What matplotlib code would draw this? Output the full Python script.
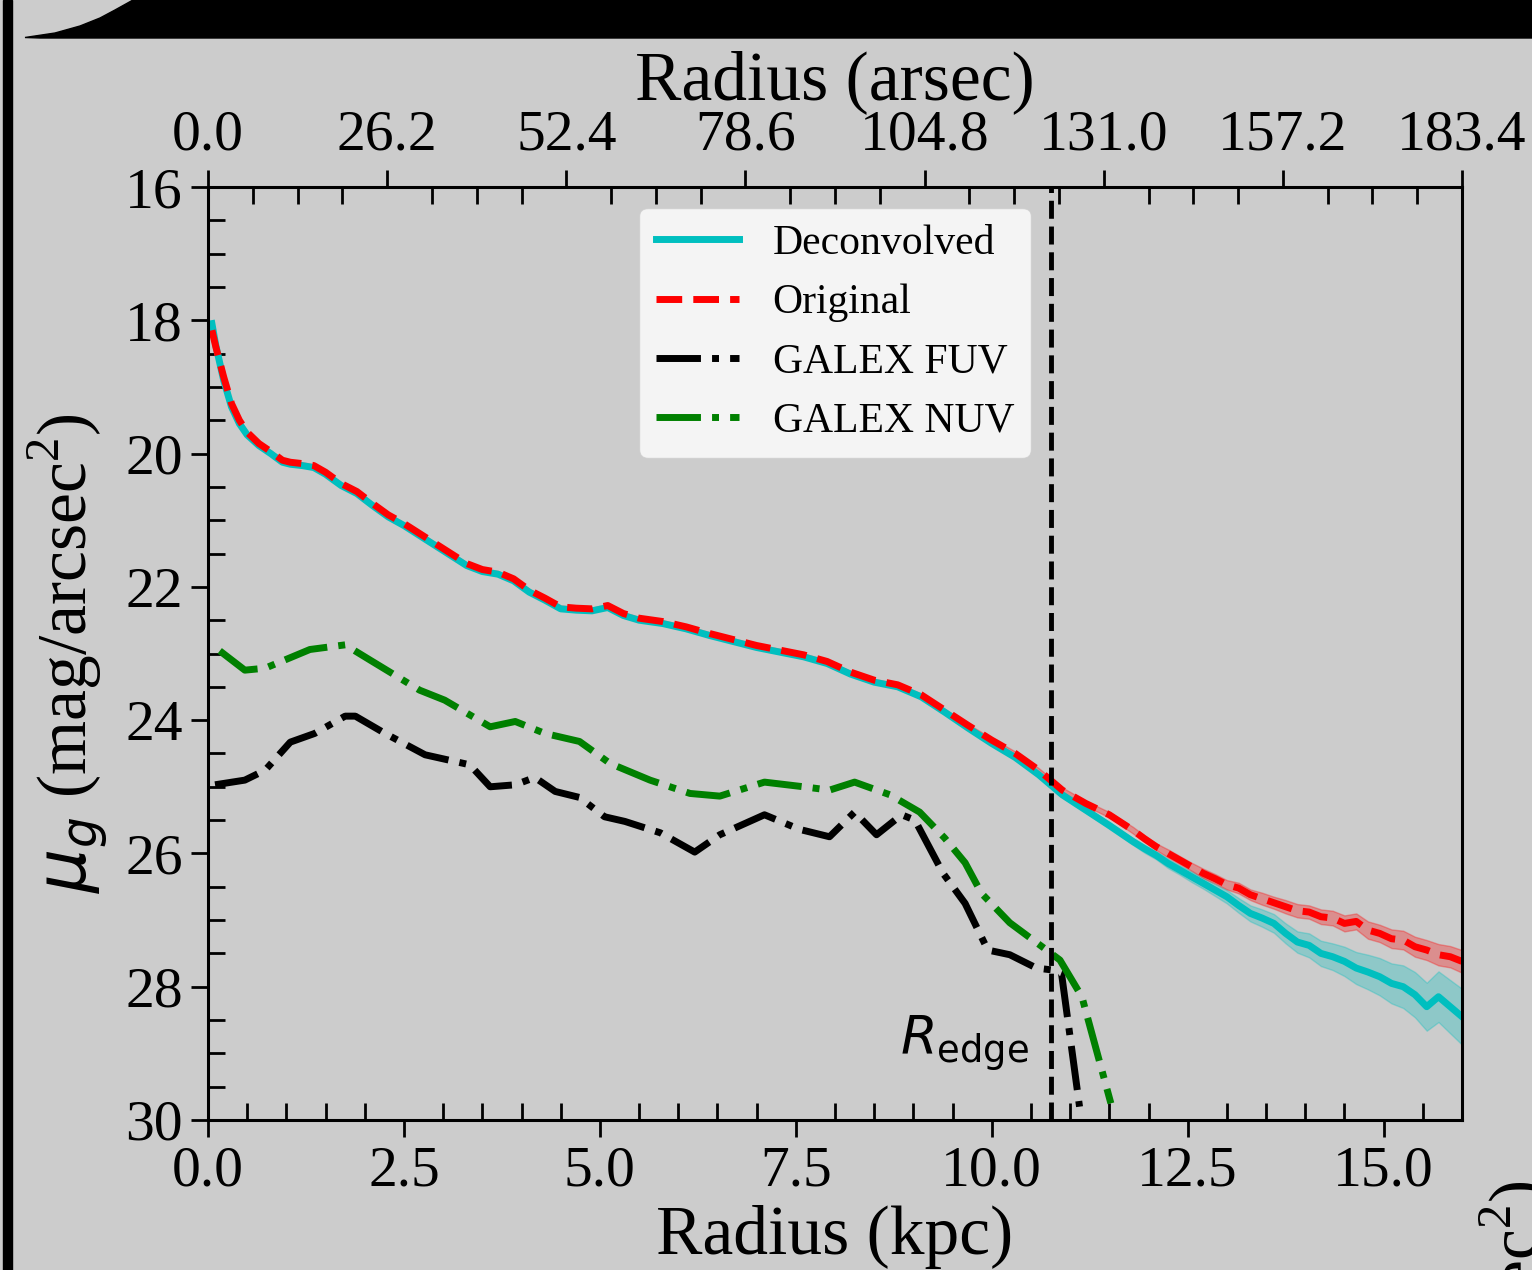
import numpy as np
import matplotlib.pyplot as plt
from matplotlib.patches import Polygon, Rectangle
from matplotlib.ticker import MultipleLocator, AutoMinorLocator

# optical profiles (kpc, mag/arcsec^2)
r_opt = [0.05, 0.1, 0.2, 0.3, 0.4, 0.5, 0.65, 0.8, 0.95, 1.05, 1.2, 1.35, 1.5,
         1.7, 1.9, 2.1, 2.3, 2.5, 2.7, 2.9, 3.1, 3.3, 3.5, 3.7, 3.9, 4.1, 4.3,
         4.5, 4.7, 4.9, 5.1, 5.3, 5.5, 5.8, 6.1, 6.4, 6.7, 7.0, 7.3, 7.6, 7.9,
         8.2, 8.5, 8.8, 9.1, 9.4, 9.7, 10.0, 10.3, 10.6, 10.9, 11.2, 11.5,
         11.8, 11.95, 12.1, 12.25, 12.4, 12.55, 12.7, 12.85, 13.0, 13.15, 13.3,
         13.45, 13.6, 13.75, 13.9, 14.05, 14.2, 14.35, 14.5, 14.65, 14.8, 14.95,
         15.1, 15.25, 15.4, 15.55, 15.7, 15.85, 16.0]
mu_orig = [18.15, 18.4, 18.85, 19.25, 19.5, 19.68, 19.85, 19.97, 20.1, 20.13,
           20.15, 20.18, 20.28, 20.45, 20.57, 20.75, 20.92, 21.05, 21.2, 21.35,
           21.5, 21.65, 21.74, 21.78, 21.88, 22.05, 22.17, 22.3, 22.32, 22.33,
           22.28, 22.4, 22.47, 22.52, 22.6, 22.7, 22.79, 22.88, 22.95, 23.02,
           23.12, 23.28, 23.4, 23.47, 23.62, 23.85, 24.08, 24.3, 24.5, 24.75,
           25.05, 25.25, 25.42,
           25.65, 25.78, 25.9, 26.0, 26.1, 26.2, 26.3, 26.38, 26.47, 26.52,
           26.62, 26.68, 26.74, 26.8, 26.86, 26.88, 26.95, 26.97, 27.05, 27.02,
           27.15, 27.2, 27.28, 27.3, 27.4, 27.45, 27.52, 27.55, 27.62]
mu_orig_err = [0.02] * 47 + [0.03, 0.03, 0.03, 0.04, 0.04, 0.04,
               0.05, 0.05, 0.05, 0.06, 0.06, 0.06, 0.07, 0.07, 0.07, 0.08,
               0.08, 0.09, 0.09, 0.1, 0.1, 0.1, 0.11, 0.11, 0.12, 0.12, 0.13,
               0.13, 0.14, 0.14, 0.15, 0.15, 0.16, 0.16, 0.17]
mu_deconv = [18.05, 18.38, 18.9, 19.3, 19.55, 19.72, 19.88, 20.0, 20.13, 20.16,
             20.18, 20.21, 20.31, 20.48, 20.6, 20.78, 20.95, 21.08, 21.23, 21.38,
             21.53, 21.68, 21.77, 21.81, 21.91, 22.08, 22.2, 22.33, 22.35, 22.36,
             22.31, 22.43, 22.5, 22.55, 22.63, 22.73, 22.82, 22.91, 22.98, 23.05,
             23.15, 23.31, 23.43, 23.5, 23.65, 23.88, 24.12, 24.35, 24.56, 24.82,
             25.12, 25.35, 25.58,
             25.82, 25.93, 26.03, 26.15, 26.25, 26.35, 26.45, 26.55, 26.65, 26.78,
             26.9, 26.97, 27.05, 27.2, 27.33, 27.38, 27.5, 27.55, 27.62, 27.72,
             27.78, 27.85, 27.95, 28.0, 28.12, 28.3, 28.15, 28.3, 28.45]
mu_deconv_err = [0.02] * 47 + [0.03, 0.03, 0.03, 0.04, 0.04, 0.05,
                 0.05, 0.06, 0.06, 0.07, 0.07, 0.08, 0.08, 0.09, 0.1, 0.11,
                 0.12, 0.13, 0.14, 0.15, 0.16, 0.18, 0.19, 0.2, 0.22, 0.24, 0.26,
                 0.28, 0.3, 0.32, 0.34, 0.36, 0.38, 0.4, 0.42]

# GALEX profiles
r_fuv = [0.09, 0.47, 0.73, 1.05, 1.36, 1.75, 1.88, 2.26, 2.77, 3.34, 3.6, 3.92,
         4.17, 4.43, 4.74, 5.06, 5.32, 5.77, 6.21, 6.53, 7.1, 7.55, 7.93, 8.25,
         8.53, 8.85, 9.02, 9.38, 9.66, 9.95, 10.23, 10.57, 10.78, 10.89, 11.12]
mu_fuv = [24.97, 24.9, 24.75, 24.33, 24.2, 23.94, 23.94, 24.2, 24.52, 24.67,
          25.0, 24.97, 24.86, 25.07, 25.16, 25.45, 25.52, 25.69, 25.98, 25.72,
          25.42, 25.64, 25.75, 25.38, 25.72, 25.42, 25.5, 26.3, 26.75, 27.45,
          27.52, 27.72, 27.75, 27.8, 29.8]
r_nuv = [0.15, 0.47, 0.73, 1.3, 1.75, 2.07, 2.7, 3.02, 3.6, 3.92, 4.3, 4.74,
         5.13, 5.64, 6.15, 6.53, 7.1, 7.6, 7.93, 8.25, 8.7, 9.08, 9.4, 9.66,
         9.87, 10.23, 10.7, 10.87, 11.15, 11.52]
mu_nuv = [22.96, 23.25, 23.22, 22.94, 22.87, 23.1, 23.55, 23.7, 24.1, 24.02,
          24.2, 24.32, 24.65, 24.9, 25.1, 25.14, 24.93, 25.0, 25.05, 24.93,
          25.12, 25.38, 25.77, 26.14, 26.6, 27.04, 27.45, 27.6, 28.15, 29.75]

r_edge = 10.75
arcsec_labels = ['0.0', '26.2', '52.4', '78.6', '104.8', '131.0', '157.2', '183.4']

W, H = 1532, 1270
plt.rcParams['font.family'] = ['Liberation Serif', 'DejaVu Serif']
plt.rcParams['mathtext.fontset'] = 'dejavusans'

fig = plt.figure(figsize=(W / 100, H / 100), dpi=100, facecolor='0.8')
ax = fig.add_axes([208 / W, 1 - 1120 / H, (1462 - 208) / W, (1120 - 187) / H])
ax.set_facecolor('0.8')

r_opt = np.array(r_opt)
mu_o, e_o = np.array(mu_orig), np.array(mu_orig_err)
mu_d, e_d = np.array(mu_deconv), np.array(mu_deconv_err)

ax.fill_between(r_opt, mu_d - e_d, mu_d + e_d, color='c', alpha=0.3)
ax.fill_between(r_opt, mu_o - e_o, mu_o + e_o, color='r', alpha=0.3)
ax.plot(r_opt, mu_d, color='c', lw=5, label='Deconvolved')
ax.plot(r_opt, mu_o, color='r', lw=5, ls='--', label='Original')
ax.plot(r_fuv, mu_fuv, color='k', lw=5, ls='-.', label='GALEX FUV')
ax.plot(r_nuv, mu_nuv, color='g', lw=5, ls='-.', label='GALEX NUV')
ax.axvline(r_edge, color='k', lw=3.5, ls='--')
ax.text(10.48, 29.03, r'$R_{\rm edge}$', fontsize=38, ha='right', va='baseline')

ax.set_xlim(0, 16)
ax.set_ylim(30, 16)
ax.xaxis.set_major_locator(MultipleLocator(2.5))
ax.xaxis.set_minor_locator(MultipleLocator(0.5))
ax.yaxis.set_major_locator(MultipleLocator(2))
ax.yaxis.set_minor_locator(MultipleLocator(0.5))
ax.tick_params(which='major', direction='out', length=12, width=2, labelsize=41.5, pad=6)
ax.tick_params(which='minor', direction='in', length=12, width=2)
for s in ax.spines.values():
    s.set_linewidth(2.2)
ax.set_xlabel('Radius (kpc)', fontsize=50, labelpad=6)
ax.set_ylabel(r'$\mu_g$ (mag/arcsec$^{\mathregular{2}}$)', fontsize=50, labelpad=10)

ax2 = ax.twiny()
ax2.set_xlim(0, 16)
ax2.set_xticks(np.linspace(0, 16, len(arcsec_labels)))
ax2.set_xticklabels(arcsec_labels)
ax2.xaxis.set_minor_locator(AutoMinorLocator(4))
ax2.tick_params(which='major', direction='out', length=12, width=2, labelsize=41.5, pad=6)
ax2.tick_params(which='minor', direction='in', length=12, width=2)
ax2.set_xlabel('Radius (arsec)', fontsize=50, labelpad=8)

leg = ax.legend(loc='upper center', fontsize=30)

# bits of the neighbouring figure panels
def fpx(x, y):
    return (x / W, 1 - y / H)

bar = [(25, 37.5), (55, 33), (80, 26), (100, 18), (115, 10), (133, 0),
       (W, 0), (W, 38), (40, 38)]
fig.patches.append(Polygon([fpx(*p) for p in bar], closed=True, color='k',
                           transform=fig.transFigure, figure=fig))
fig.patches.append(Rectangle(fpx(3, H), 9 / W, 1, color='k',
                             transform=fig.transFigure, figure=fig))
fig.text(1478 / W, 1 - 1180 / H, r'$\mu_g$ (mag/arcsec$^{\mathregular{2}}$)',
         fontsize=50, rotation=90, ha='left', va='top')

fig.savefig('out.png', dpi=100, facecolor='0.8')
